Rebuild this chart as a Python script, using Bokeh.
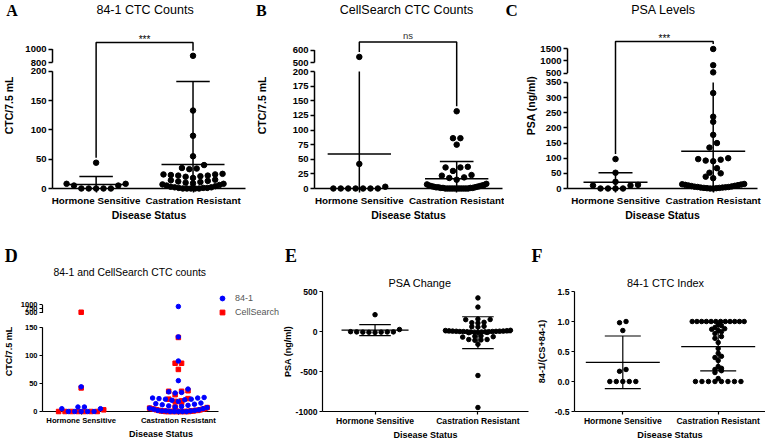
import numpy as np
from bokeh.plotting import figure
from bokeh.layouts import row, column
from bokeh.models import FixedTicker, Legend, LegendItem
from bokeh.core.properties import value
from bokeh.embed import file_html
from bokeh.resources import INLINE

# ------------------------------------------------------------------ data
categories = ["Hormone Sensitive", "Castration Resistant"]

# A / D : 84-1 CTC counts (CTC/7.5 mL)
ctc841_hs = [44, 8, 5, 0, 0, 0, 0, 0, 5, 8]
ctc841_cr = [900, 133, 90, 55, 40, 35, 34, 33, 25, 24, 24, 23, 22, 22, 21, 20,
             18, 15, 14, 13, 12, 11, 10, 9, 8, 7, 6, 5, 4, 3, 2, 2, 1, 1, 1,
             0, 0, 0, 0, 0]
# B / D : CellSearch CTC counts (CTC/7.5 mL)
cs_hs = [0, 0, 0, 0, 0, 0, 0, 3, 42, 545]
cs_cr = [132, 86, 86, 75, 37, 36, 36, 30, 23, 22, 19, 18, 15, 8, 7, 6, 5, 5, 4,
         4, 3, 3, 2, 2, 2, 1, 1, 1, 1, 0, 0, 0, 0, 0, 0, 0, 0, 0, 0, 0]
# C : PSA levels (ng/ml)
psa_hs = [97, 52, 12, 10, 0, 0, 0, 0, 10, 22]
psa_cr = [1480, 820, 530, 315, 237, 220, 177, 150, 135, 100, 97, 95, 92, 90, 67,
          52, 50, 39, 34, 15, 14, 13, 12, 11, 10, 9, 8, 7, 6, 5, 5, 4, 3, 3, 2,
          2, 1, 1, 0, 0]
# E : PSA change (ng/ml)
psa_change_hs = [25, 210, -5, -10, -8, -12, -6, -8, -5, -2]
psa_change_cr = [420, 305, 155, 150, 148, 115, 110, 105, 65, 60, 55, 15, 12, 10,
                 8, 6, 5, 4, 3, 2, 0, 0, -1, -2, -3, -4, -5, -6, -8, -10, -12,
                 -15, -55, -60, -65, -70, -100, -100, -105, -110, -160, -550, -950]
# F : 84-1 CTC index  84-1/(CS+84-1)
index_hs = [1.0, 0.98, 0.85, 0.2, 0.17, 0.0, 0.0, 0.0, 0.0, 0.0]
index_cr = [1.0, 1.0, 1.0, 1.0, 1.0, 1.0, 1.0, 1.0, 1.0, 1.0, 1.0, 1.0,
            0.95, 0.93, 0.9, 0.88, 0.87, 0.85, 0.83, 0.8, 0.75, 0.72, 0.65,
            0.55, 0.47, 0.42, 0.4, 0.35, 0.25, 0.22, 0.2, 0.18, 0.15, 0.05,
            0.0, 0.0, 0.0, 0.0, 0.0, 0.0, 0.0, 0.0]

# y-axis tick values
ticks_a = [0, 50, 100, 150, 200, 800, 1000]
ticks_b = [0, 25, 50, 75, 100, 125, 150, 175, 200, 500, 600]
ticks_c = [0, 50, 100, 150, 200, 250, 300, 350, 500, 1000, 1500]
ticks_d = [0, 50, 100, 150, 500, 750, 1000]
ticks_e = [-1000, -500, 0, 500]
ticks_f = [-0.5, 0.0, 0.5, 1.0, 1.5]
labels_f = ["-0.5", "0.0", "0.5", "1.0", "1.5"]

FONT = "Liberation Sans"
SERIF = "Liberation Serif"


# ------------------------------------------------------------------ helpers
def broken(k, lo_max, up_min, up_base, up_k):
    """piecewise scale for a broken y axis (result in lower-segment units)"""
    def t(v):
        v = np.asarray(v, dtype=float)
        return np.where(v <= lo_max, v, (up_base + (v - up_min) * up_k) / k)
    return t


def linear(v):
    return np.asarray(v, dtype=float)


def swarm(ypx, spacing, maxw, bh):
    ypx = np.asarray(ypx, float)
    order = np.argsort(ypx, kind="stable")
    rows, cur, start = [], [], None
    for i in order:
        if cur and ypx[i] - start > bh:
            rows.append(cur)
            cur = []
        if not cur:
            start = ypx[i]
        cur.append(i)
    if cur:
        rows.append(cur)
    off = np.zeros(len(ypx))
    for r in rows:
        n = len(r)
        if n < 2:
            continue
        s = min(spacing, maxw / (n - 1))
        slots = (np.arange(n) - (n - 1) / 2.0) * s
        so = np.argsort(np.abs(slots) + 1e-9 * np.arange(n), kind="stable")
        for idx, si in zip(r, so):
            off[idx] = slots[si]
    return off


def make_fig(g):
    bl, br, bt, bb = g["borders"]
    fw = g["W"] - bl - br
    fh = g["H"] - bt - bb
    xs = 1 - g["hs_px"] / g["sp"]
    y0 = g["y0"]
    p = figure(width=g["W"], height=g["H"], x_range=(xs, xs + fw / g["sp"]),
               y_range=(y0, y0 + fh / g["k"]), output_backend="svg",
               toolbar_location=None, title=None,
               min_border_left=bl, min_border_right=br,
               min_border_top=bt, min_border_bottom=bb)
    p.outline_line_color = None
    p.xgrid.visible = False
    p.ygrid.visible = False
    p.background_fill_color = "white"
    p.border_fill_color = "white"
    return p


def style_axes(p, g, yticks, ylabels, ylabel, fs_xt, fs_yt, fs_al, lw, manual_yline):
    xa, ya = p.xaxis[0], p.yaxis[0]
    xa.ticker = FixedTicker(ticks=[1, 2])
    xa.major_label_overrides = {1: categories[0], 2: categories[1]}
    xa.axis_label = "Disease Status"
    pos = [float(round(float(v), 6)) for v in g["t"](yticks)]
    ya.ticker = FixedTicker(ticks=pos)
    ya.major_label_overrides = {pp: lab for pp, lab in zip(pos, ylabels)}
    ya.axis_label = ylabel
    for a, fs in ((xa, fs_xt), (ya, fs_yt)):
        a.axis_line_width = lw
        a.axis_line_color = "black"
        a.major_tick_line_width = lw
        a.major_tick_line_color = "black"
        a.major_tick_in = 0
        a.major_tick_out = g["tick"]
        a.minor_tick_line_color = None
        a.major_label_text_font = FONT
        a.major_label_text_font_style = "bold"
        a.major_label_text_font_size = fs
        a.major_label_text_color = "black"
        a.axis_label_text_font = FONT
        a.axis_label_text_font_style = "bold"
        a.axis_label_text_font_size = fs_al
        a.axis_label_text_color = "black"
    xa.major_label_standoff = g["xls"]
    xa.axis_label_standoff = g["xas"]
    ya.major_label_standoff = g["yls"]
    ya.axis_label_standoff = g["yas"]
    if manual_yline:
        ya.axis_line_color = None


def yaxis_segments(p, g, segs, lw):
    x0 = p.x_range.start
    ya = [float(g["t"](a)) for a, b in segs]
    yb = [float(g["t"](b)) for a, b in segs]
    p.segment(x0=[x0] * len(segs), y0=ya, x1=[x0] * len(segs), y1=yb,
              line_width=lw, line_color="black", level="overlay")


def draw_group(p, g, xc, vals, ms, mean_w, cap_w, lw, lo_max=None,
               marker="circle", color="black", errbars=True):
    vals = np.asarray(vals, float)
    t, k, y0 = g["t"], g["k"], g["y0"]
    ty = t(vals)
    ypx = (ty - y0) * k
    off = swarm(ypx, g["spacing"], g["maxw"], g["bh"])
    xs = xc + off / g["sp"]
    r = p.scatter(xs, ty, size=ms, marker=marker, color=color, level="overlay")
    if errbars:
        m = vals.mean()
        sd = vals.std(ddof=1)
        top_lim = lo_max if lo_max is not None else p.y_range.end
        hi = min(m + sd, top_lim)
        lo = max(m - sd, y0)
        p.segment(x0=[xc], y0=[float(t(lo))], x1=[xc], y1=[float(t(hi))],
                  line_width=lw, line_color="black")
        hw = mean_w / 2.0 / g["sp"]
        p.segment(x0=[xc - hw], y0=[float(t(m))], x1=[xc + hw], y1=[float(t(m))],
                  line_width=lw, line_color="black")
        cw = cap_w / 2.0 / g["sp"]
        for v, ok in ((m + sd, m + sd <= top_lim), (m - sd, m - sd >= y0)):
            if ok:
                p.segment(x0=[xc - cw], y0=[float(t(v))], x1=[xc + cw], y1=[float(t(v))],
                          line_width=lw, line_color="black")
    return r, float(ypx.max())


def bracket(p, g, ybr_px, ml, mr, text, fs, color, lw, toff):
    k, y0 = g["k"], g["y0"]
    yb = y0 + ybr_px / k
    yl = y0 + (ml + 5) / k
    yr = y0 + (mr + 5) / k
    p.line([1, 1, 2, 2], [yl, yb, yb, yr], line_width=lw, line_color="black")
    p.text(x=[1.5], y=[yb + toff / k], text=[text], text_align="center",
           text_baseline="bottom", text_font=value(FONT), text_font_size=fs,
           text_color=color, level="overlay")


def add_text(p, g, text, px, py, size, font=FONT, style="normal", align="center",
             color="black"):
    """panel title / letter, placed at a page position outside the frame"""
    fl = g["fig_x"] + g["borders"][0]
    fb = g["fig_y"] + g["H"] - g["borders"][3]
    x = p.x_range.start + (px - fl) / g["sp"]
    y = g["y0"] + (fb - py) / g["k"]
    p.text(x=[x], y=[y], text=[text], text_align=align, text_baseline="middle",
           text_font=value(font), text_font_size=size,
           text_font_style=value(style), text_color=color, level="overlay")


TOP_H = 224
BOT_H = 218

# ------------------------------------------------------------------ A
gA = dict(fig_x=0, fig_y=0, W=252, H=TOP_H, borders=(49, 7, 22, 36), hs_px=44.3,
          sp=98.4, k=0.586, y0=0.0, t=broken(0.586, 200, 800, 126.0, 0.067),
          tick=4, xls=2, xas=0, yls=2, yas=7, spacing=7.5, maxw=62, bh=5)
pA = make_fig(gA)
style_axes(pA, gA, ticks_a, [str(v) for v in ticks_a], "CTC/7.5 mL",
           "9.8px", "9.5px", "10.5px", 1.5, True)
yaxis_segments(pA, gA, [(0, 200), (800, 1000)], 1.5)
_, m1 = draw_group(pA, gA, 1, ctc841_hs, 5.5, 64, 34, 1.5, lo_max=200)
_, m2 = draw_group(pA, gA, 2, ctc841_cr, 5.5, 64, 34, 1.5, lo_max=200)
bracket(pA, gA, 146, m1, m2, "***", "10px", "black", 1.5, -2)
add_text(pA, gA, "84-1 CTC Counts", 143, 9, "12.5px")
add_text(pA, gA, "A", 2, 10, "16px", SERIF, "bold", "left")

# ------------------------------------------------------------------ B
gB = dict(fig_x=252, fig_y=0, W=252, H=TOP_H, borders=(60, 2, 22, 36), hs_px=45.3,
          sp=98.4, k=0.585, y0=0.0, t=broken(0.585, 200, 500, 126.0, 0.124),
          tick=4, xls=2, xas=0, yls=2, yas=22, spacing=7.5, maxw=60, bh=5)
pB = make_fig(gB)
style_axes(pB, gB, ticks_b, [str(v) for v in ticks_b], "CTC/7.5 mL",
           "9.8px", "9.5px", "10.5px", 1.5, True)
yaxis_segments(pB, gB, [(0, 200), (500, 600)], 1.5)
_, m1 = draw_group(pB, gB, 1, cs_hs, 5.5, 64, 34, 1.5, lo_max=200)
_, m2 = draw_group(pB, gB, 2, cs_cr, 5.5, 64, 34, 1.5, lo_max=200)
bracket(pB, gB, 146.5, m1, m2, "ns", "9.5px", "#333333", 1.5, 1.5)
add_text(pB, gB, "CellSearch CTC Counts", 405, 9, "12.5px")
add_text(pB, gB, "B", 253, 10, "16px", SERIF, "bold", "left")

# ------------------------------------------------------------------ C
gC = dict(fig_x=504, fig_y=0, W=261, H=TOP_H, borders=(63, 8, 22, 36), hs_px=48,
          sp=97.7, k=0.303, y0=0.0, t=broken(0.303, 350, 500, 115.4, 0.0246),
          tick=4, xls=2, xas=0, yls=2, yas=0, spacing=7.5, maxw=62, bh=5)
pC = make_fig(gC)
style_axes(pC, gC, ticks_c, [str(v) for v in ticks_c], "PSA (ng/ml)",
           "9.8px", "9.5px", "10.5px", 1.5, True)
yaxis_segments(pC, gC, [(0, 350), (500, 1500)], 1.5)
_, m1 = draw_group(pC, gC, 1, psa_hs, 5.5, 64, 34, 1.5, lo_max=350)
_, m2 = draw_group(pC, gC, 2, psa_cr, 5.5, 64, 34, 1.5, lo_max=350)
bracket(pC, gC, 147, m1, m2, "***", "10px", "black", 1.5, -2)
add_text(pC, gC, "PSA Levels", 663, 9, "12.5px")
add_text(pC, gC, "C", 505, 10, "17px", SERIF, "bold", "left")

# ------------------------------------------------------------------ D
gD = dict(fig_x=0, fig_y=TOP_H, W=279, H=BOT_H, borders=(40, 0, 67, 28), hs_px=39,
          sp=98.0, k=0.575, y0=0.0, t=broken(0.575, 150, 500, 101.0, 0.0166),
          tick=3, xls=1, xas=1, yls=2, yas=4, spacing=6.5, maxw=58, bh=4.5)
pD = make_fig(gD)
style_axes(pD, gD, ticks_d, [str(v) for v in ticks_d], "CTC/7.5 mL",
           "7.7px", "7.5px", "9px", 1.2, True)
pD.xaxis[0].bounds = (pD.x_range.start, 2 + 40.0 / 98.0)
yaxis_segments(pD, gD, [(0, 150), (500, 1000)], 1.2)
rr, _ = draw_group(pD, gD, 1, cs_hs, 4.5, 0, 0, 1.2, marker="square", color="#ff0000", errbars=False)
draw_group(pD, gD, 2, cs_cr, 4.5, 0, 0, 1.2, marker="square", color="#ff0000", errbars=False)
rb, _ = draw_group(pD, gD, 1, ctc841_hs, 4.5, 0, 0, 1.2, color="#0000ff", errbars=False)
draw_group(pD, gD, 2, ctc841_cr, 4.5, 0, 0, 1.2, color="#0000ff", errbars=False)
leg = Legend(items=[LegendItem(label=value("84-1"), renderers=[rb]),
                    LegendItem(label=value("CellSearch"), renderers=[rr])],
             location=(174, 93), orientation="vertical", border_line_color=None,
             background_fill_alpha=0, glyph_width=12, glyph_height=12,
             label_height=12, label_width=10, spacing=2, padding=0, margin=0,
             label_standoff=7, label_text_font=FONT, label_text_font_size="9px",
             label_text_color="#555555")
pD.add_layout(leg)
add_text(pD, gD, "84-1 and CellSearch CTC counts", 128, 272, "10.4px")
add_text(pD, gD, "D", 2, 254.5, "18px", SERIF, "bold", "left")

# ------------------------------------------------------------------ E
gE = dict(fig_x=279, fig_y=TOP_H, W=251, H=BOT_H, borders=(40, 2, 67, 29), hs_px=53.3,
          sp=104.4, k=122.0 / 1500.0, y0=-1000.0, t=linear,
          tick=3, xls=1, xas=1, yls=2, yas=0, spacing=6.2, maxw=66, bh=4)
pE = make_fig(gE)
style_axes(pE, gE, ticks_e, [str(v) for v in ticks_e], "PSA (ng/ml)",
           "8.6px", "8.6px", "9px", 1.2, False)
draw_group(pE, gE, 1, psa_change_hs, 4.5, 68, 32, 1.2)
draw_group(pE, gE, 2, psa_change_cr, 4.5, 68, 32, 1.2)
add_text(pE, gE, "PSA Change", 418, 282, "10.9px")
add_text(pE, gE, "E", 281, 254.5, "18px", SERIF, "bold", "left")

# ------------------------------------------------------------------ F
gF = dict(fig_x=530, fig_y=TOP_H, W=235, H=BOT_H, borders=(44, 0, 67, 29), hs_px=48.3,
          sp=95.4, k=61.0, y0=-0.5, t=linear,
          tick=3, xls=1, xas=1, yls=2, yas=5, spacing=6.5, maxw=52, bh=3)
pF = make_fig(gF)
style_axes(pF, gF, ticks_f, labels_f, "84-1/(CS+84-1)",
           "8.6px", "8.6px", "9.2px", 1.2, False)
draw_group(pF, gF, 1, index_hs, 4.5, 74, 36, 1.2)
draw_group(pF, gF, 2, index_cr, 4.5, 74, 36, 1.2)
add_text(pF, gF, "84-1 CTC Index", 665, 282, "10.9px")
add_text(pF, gF, "F", 531, 254.5, "18px", SERIF, "bold", "left")

layout = column(row(pA, pB, pC), row(pD, pE, pF))
open("out.html", "w").write(file_html(layout, INLINE))
